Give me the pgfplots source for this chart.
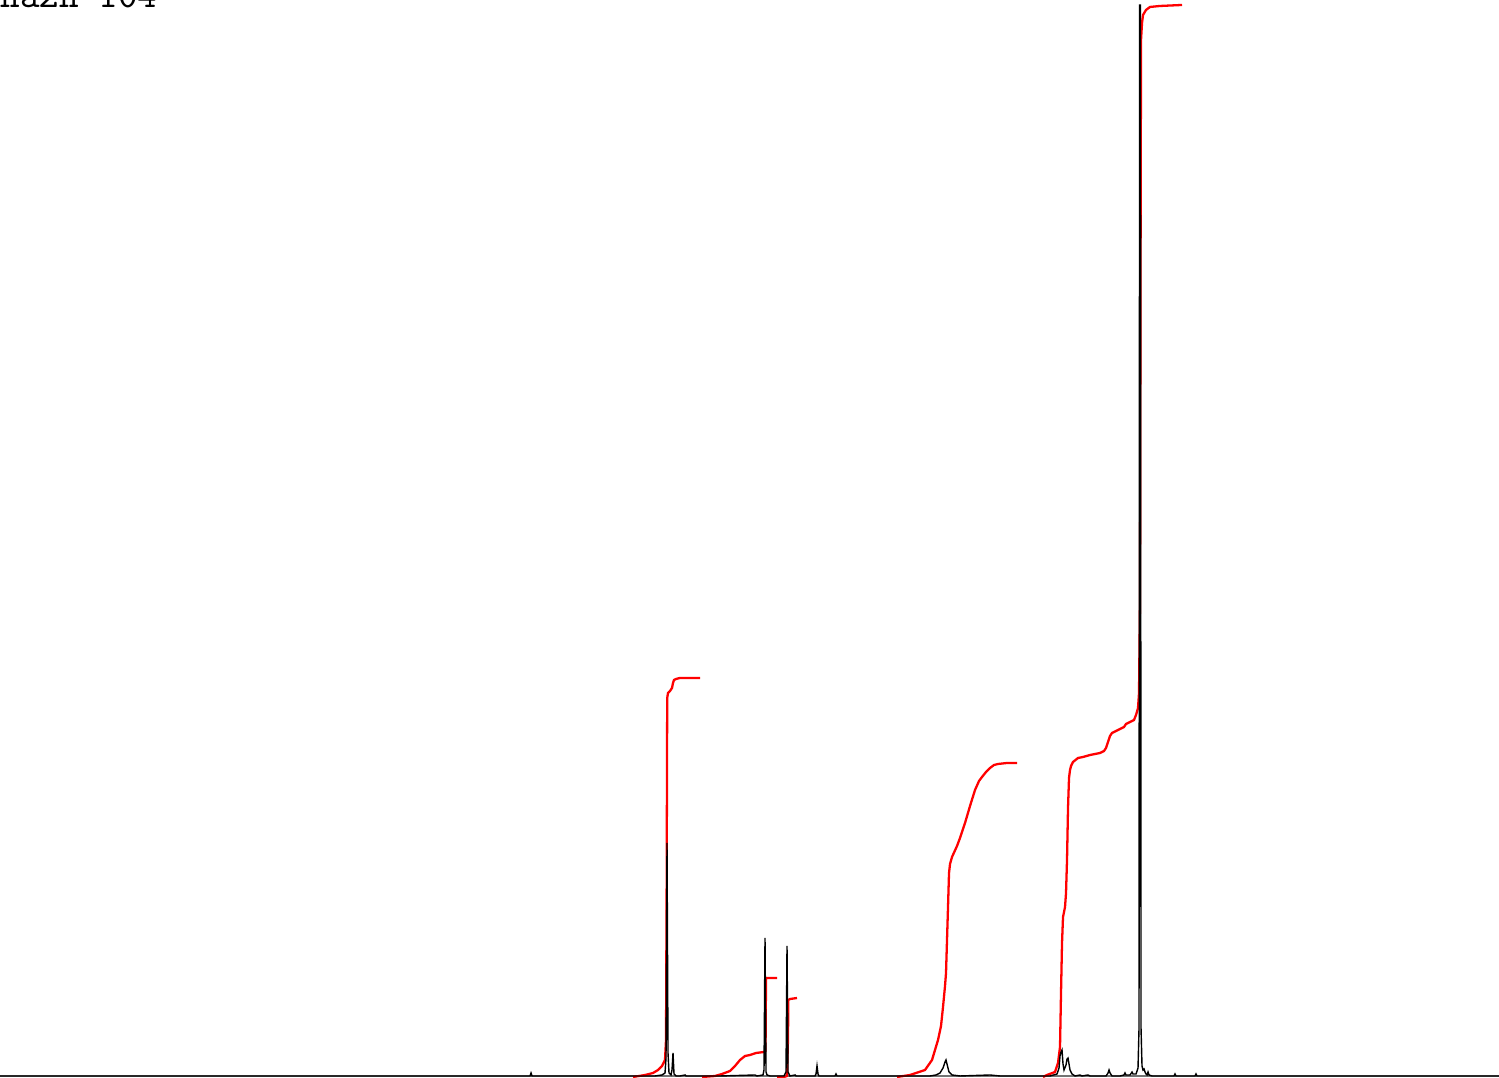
\documentclass[border=0pt]{standalone}
\usepackage{pgfplots}
\pgfplotsset{compat=1.18}
\definecolor{intred}{RGB}{255,0,0}
\begin{document}
\begin{tikzpicture}
\begin{axis}[
    scale only axis,
    width=149.9mm, height=107.8mm,
    xmin=0, xmax=1499, ymin=0, ymax=1078,
    hide axis,
    clip=false,
]
% baseline
\addplot[color=black!55, line width=0.45pt] coordinates {(0,2)(1499,2)};
% integrals
\addplot[color=intred, line width=0.65pt] coordinates {
(633,1)(645,3)(653,5)(658,8)(662,12)(665,18)(666,38)(666.6,180)(667.2,380)(668,385)(670,387)(672,390)(673,395)(674,398)(676,399)(680,400)(690,400)(700,400)
};
\addplot[color=intred, line width=0.65pt] coordinates {
(702,1)(715,2)(722,4)(730,7)(735,12)(740,18)(745,22)(750,23)(756,25)(764,26)(765.5,27)(766,100)(770,100)(777,100)
};
\addplot[color=intred, line width=0.65pt] coordinates {
(777,1)(784,1)(787,2)(788,40)(788.3,78)(790,79)(797,80)
};
\addplot[color=intred, line width=0.65pt] coordinates {
(897,1)(910,3)(925,8)(932,18)(938,38)(941,52)(943,71)(945,92)(946,105)(947,138)(948,171)(949,205)(950,214)(952,221)(957,232)(960,240)(965,255)(970,272)(975,288)(979,297)(982,301)(986,306)(990,310)(994,313)(998,314)(1007,315)(1017,315)
};
\addplot[color=intred, line width=0.65pt] coordinates {
(1043,1)(1047,3)(1055,6)(1058,15)(1060,31)(1061,85)(1062,135)(1063,161)(1065,171)(1066,185)(1067,218)(1068,270)(1069,300)(1070,308)(1071,312)(1073,316)(1078,320)(1083,321)(1090,323)(1100,325)(1104,327)(1106,330)(1108,336)(1110,342)(1112,345)(1116,347)(1120,349)(1124,351)(1126,354)(1130,356)(1134,358)(1136,363)(1138,370)(1139,385)(1140,480)(1140.5,800)(1141,1038)(1142,1055)(1143,1063)(1146,1068)(1150,1071)(1160,1072)(1182,1073)
};
% spectrum
\addplot[color=black, line width=0.4pt] coordinates {
(0,2)(530,2)(531,5)(532,2)
(655,2)(662,3)(665,5)(666,20)(667,235)(668,25)(669,5)(671,3)(672,8)(673,25)(674,4)(676,2)
(680,2)(685,3)(686,2)
(720,2)(755,3)(757,2)(763,3)(764,8)(765,140)(766,6)(767,3)(770,2)
(784,2)(786,6)(787,132)(788,6)(790,2)(795,3)(796,2)
(815,2)(816,4)(817,12)(818,4)(819,2)
(835,2)(836,4)(837,2)
(930,2)(936,3)(940,5)(943,10)(945,16)(946,18)(947,14)(949,6)(952,3)(960,2)(990,3)(1000,2)
(1050,2)(1057,4)(1059,10)(1060,22)(1061,26)(1062,28)(1063,14)(1064,8)(1066,13)(1067,19)(1068,20)(1069,14)(1070,8)(1072,4)(1075,2)(1080,3)(1082,2)(1088,3)(1090,2)
(1106,2)(1108,5)(1109,8)(1110,5)(1112,2)(1120,2)(1124,3)(1125,5)(1126,3)(1130,3)(1132,6)(1133,4)(1136,4)(1138,10)(1139,50)(1139.6,1073)(1140.4,1073)(1141,50)(1142,12)(1143,8)(1144,9)(1145,6)(1146,4)(1147,3)(1148,6)(1149,3)(1152,2)
(1174,2)(1175,4)(1176,2)(1195,2)(1196,4)(1197,2)(1499,2)
};
\node[anchor=base west, inner sep=0pt, font=\ttfamily\fontsize{10.6}{12}\selectfont]
    at (axis cs:0,1070) {nazh 104};
\coordinate (bl) at (rel axis cs:0,0);
\coordinate (tr) at (rel axis cs:1,1);
\end{axis}
\pgfresetboundingbox
\useasboundingbox (bl) rectangle (tr);
\end{tikzpicture}
\end{document}
